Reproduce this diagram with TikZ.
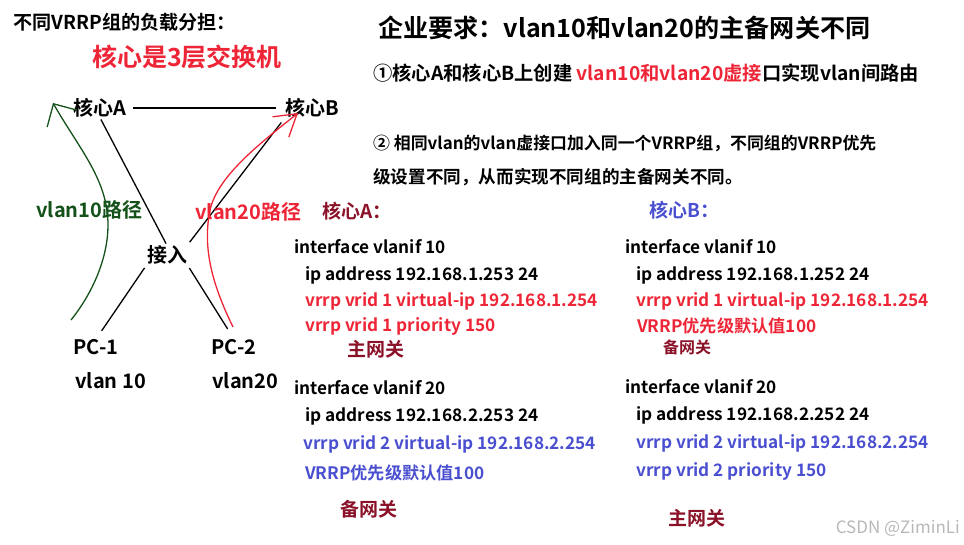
\documentclass[tikz,border=0pt]{standalone}
\usepackage{fontspec}
\setmainfont{Noto Sans CJK SC}[BoldFont={* Bold}]
\usetikzlibrary{arrows.meta}

\definecolor{vrrpred}{HTML}{EE2536}
\definecolor{gwred}{HTML}{8A1128}
\definecolor{vrrpblue}{HTML}{4A4FD0}
\definecolor{pathgreen}{HTML}{14521A}
\definecolor{markgray}{HTML}{B8B8B8}

\begin{document}
\begin{tikzpicture}[
    x=1pt, y=-1pt,
    every node/.style={inner sep=0pt},
    txt/.style={anchor=west, font=\fontsize{17.2}{21}\selectfont\bfseries},
    gw/.style={anchor=west, text=gwred, font=\fontsize{19}{22}\selectfont\bfseries},
    lbl/.style={font=\fontsize{20}{24}\selectfont\bfseries},
    head/.style={anchor=west, font=\fontsize{20}{24}\selectfont\bfseries},
    note/.style={anchor=west, font=\fontsize{17.6}{21}\selectfont\bfseries},
    link/.style={draw=black, line width=1.3pt},
    greenpath/.style={draw=pathgreen, line width=1.3pt,
                      -{Straight Barb[length=17pt, width=34pt, line width=1.3pt]}},
    redpath/.style={draw=vrrpred, line width=1.3pt,
                    -{Straight Barb[length=21pt, width=26pt, line width=1.3pt]}},
]

\useasboundingbox (0,0) rectangle (964,545);

\node [head, font=\fontsize{19.1}{23}\selectfont\bfseries] (intro) at (13,22) {不同VRRP组的负载分担：};
\node [lbl, text=vrrpred, font=\fontsize{25}{30}\selectfont\bfseries]
      (layer3) at (187,57) {核心是3层交换机};

\node [lbl] (coreA) at (100,108) {核心A};
\node [lbl] (coreB) at (312,108) {核心B};
\node [lbl] (access) at (167,255) {接入};
\node [lbl] (pc1) at (96,347) {PC-1};
\node [lbl] (pc2) at (234,347) {PC-2};
\node [head] (vlanA) at (75,381) {vlan 10};
\node [head] (vlanB) at (212,381) {vlan20};

\draw [link, shorten <=6pt, shorten >=9pt] (coreA) -- (coreB);
\draw [link, shorten <=2pt, shorten >=2pt] (coreA.south) -- (access.north);
\draw [link, shorten <=4pt, shorten >=6pt] (access.north east) -- (coreB.south west);
\draw [link, shorten <=4pt, shorten >=10pt] (access.south west) -- (pc1.north);
\draw [link, shorten <=4pt, shorten >=12pt] (access.south east) -- (pc2.north);

\coordinate (g0) at (71,320);
\coordinate (g1) at (53,103);
\draw [greenpath] (g0) .. controls (95,290) and (108,255) .. (108,225)
      .. controls (108,180) and (80,150) .. (g1);
\coordinate (r0) at (233,327);
\coordinate (r1) at (298,113);
\draw [redpath] (r0) .. controls (210,280) and (203,245) .. (210,210)
      .. controls (218,175) and (262,142) .. (r1);

\node [head, text=pathgreen] (path10) at (36,210) {vlan10路径};
\node [head, text=vrrpred] (path20) at (195,212) {vlan20路径};

\node [anchor=west, font=\fontsize{25.1}{30}\selectfont\bfseries]
      (goal) at (378,28) {企业要求：vlan10和vlan20的主备网关不同};
\node [head, font=\fontsize{19.3}{23}\selectfont\bfseries] (step1) at (373,73)
      {①核心A和核心B上创建 \textcolor{vrrpred}{vlan10和vlan20虚接}口实现vlan间路由};
\node [note, font=\fontsize{16.9}{21}\selectfont\bfseries] (step2) at (373,143)
      {② 相同vlan的vlan虚接口加入同一个VRRP组，不同组的VRRP优先};
\node [note] (step2b) at (373,177) {级设置不同，从而实现不同组的主备网关不同。};

\node [gw] (cfgA) at (322,211) {核心A：};
\node [txt] (a10) at (294,247) {interface vlanif 10};
\node [txt] (a10ip) at (305,275) {ip address 192.168.1.253 24};
\node [txt, text=vrrpred] (a10vip) at (305,301) {vrrp vrid 1 virtual-ip 192.168.1.254};
\node [txt, text=vrrpred] (a10pri) at (305,326) {vrrp vrid 1 priority 150};
\node [gw] (a10gw) at (347,349) {主网关};
\node [txt] (a20) at (294,388) {interface vlanif 20};
\node [txt] (a20ip) at (305,416) {ip address 192.168.2.253 24};
\node [txt, text=vrrpblue] (a20vip) at (303,444) {vrrp vrid 2 virtual-ip 192.168.2.254};
\node [txt, text=vrrpblue] (a20pri) at (305,473) {VRRP优先级默认值100};
\node [gw] (a20gw) at (340,509) {备网关};

\node [gw, text=vrrpblue] (cfgB) at (649,210) {核心B：};
\node [txt] (b10) at (625,247) {interface vlanif 10};
\node [txt] (b10ip) at (636,275) {ip address 192.168.1.252 24};
\node [txt, text=vrrpred] (b10vip) at (636,301) {vrrp vrid 1 virtual-ip 192.168.1.254};
\node [txt, text=vrrpred] (b10pri) at (637,326) {VRRP优先级默认值100};
\node [gw, font=\fontsize{16}{19}\selectfont\bfseries] (b10gw) at (663,347) {备网关};
\node [txt] (b20) at (625,387) {interface vlanif 20};
\node [txt] (b20ip) at (636,415) {ip address 192.168.2.252 24};
\node [txt, text=vrrpblue] (b20vip) at (636,443) {vrrp vrid 2 virtual-ip 192.168.2.254};
\node [txt, text=vrrpblue] (b20pri) at (636,471) {vrrp vrid 2 priority 150};
\node [gw] (b20gw) at (668,518) {主网关};

\node [anchor=east, text=markgray, font=\fontsize{17}{20}\selectfont]
      (mark) at (960,528) {CSDN @ZiminLi};

\end{tikzpicture}
\end{document}
